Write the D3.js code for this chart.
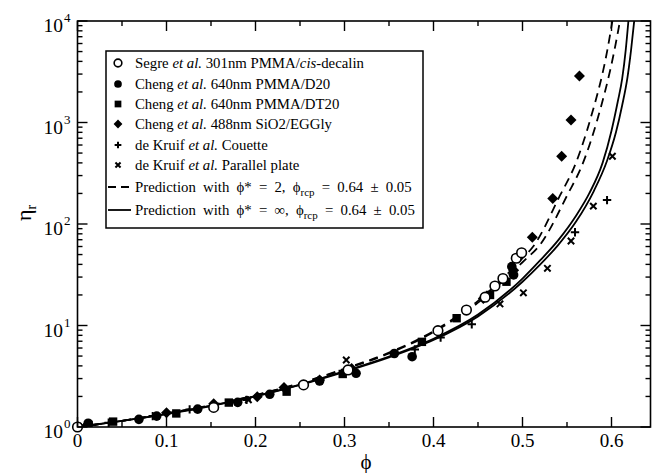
<!DOCTYPE html>
<html>
<head>
<meta charset="utf-8">
<script src="https://cdn.jsdelivr.net/npm/d3@7"></script>
<style>
  body { margin: 0; background: #fff; }
  svg text { font-family: "Liberation Serif", "Times New Roman", serif; fill: #000; }
</style>
</head>
<body>
<script>
// measured series: [phi, eta_r]
const segre = [[0,1],[0.153,1.56],[0.254,2.6],[0.304,3.65],[0.405,8.9],[0.437,14.2],[0.458,19],[0.469,24.5],[0.478,29],[0.493,46],[0.499,52]];
const chengD20 = [[0.012,1.09],[0.069,1.19],[0.089,1.28],[0.135,1.5],[0.18,1.75],[0.216,2.1],[0.272,2.84],[0.313,3.38],[0.356,5.3],[0.376,4.93],[0.488,38],[0.49,31.5]];
const chengDT20 = [[0.04,1.13],[0.111,1.36],[0.17,1.74],[0.235,2.23],[0.298,3.33],[0.387,6.9],[0.426,11.8],[0.4635,20],[0.482,27]];
const chengSiO2 = [[0.1,1.38],[0.153,1.69],[0.202,1.99],[0.232,2.45],[0.272,2.9],[0.308,3.78],[0.456,18.5],[0.49,35],[0.511,74],[0.534,178],[0.544,465],[0.5545,1060],[0.564,2870]];
const kruifCouette = [[0.016,1.05],[0.035,1.1],[0.0845,1.28],[0.126,1.49],[0.19,1.85],[0.379,5.8],[0.408,7.6],[0.443,10.3],[0.559,83],[0.595,172]];
const kruifPlate = [[0.005,1.02],[0.192,1.85],[0.302,4.57],[0.4747,16.3],[0.501,21],[0.528,36.6],[0.5545,68],[0.5796,150],[0.601,465]];

// prediction curves
const solidA = [[0,1],[0.05,1.15],[0.1,1.35],[0.15,1.62],[0.2,2.02],[0.25,2.62],[0.3,3.55],[0.35,4.95],[0.4,7.4],[0.45,12.8],[0.5,29],[0.52,44],[0.54,69],[0.56,120],[0.575,200],[0.59,400],[0.6,830],[0.607,1600],[0.612,2700],[0.616,5200],[0.619,10000]];
const solidB = [[0,1],[0.05,1.15],[0.1,1.34],[0.15,1.61],[0.2,2.0],[0.25,2.6],[0.3,3.5],[0.35,4.85],[0.4,7.2],[0.45,12.3],[0.5,27],[0.52,40],[0.54,62],[0.56,105],[0.58,210],[0.595,420],[0.605,800],[0.612,1480],[0.618,2800],[0.622,5200],[0.6255,10000]];
const dashA = [[0,1],[0.05,1.15],[0.1,1.36],[0.15,1.64],[0.2,2.06],[0.25,2.7],[0.3,3.75],[0.35,5.4],[0.4,8.8],[0.45,17.5],[0.5,46],[0.512,60],[0.542,190],[0.56,400],[0.576,1060],[0.595,5000],[0.601,10000]];
const dashB = [[0,1],[0.05,1.15],[0.1,1.36],[0.15,1.63],[0.2,2.05],[0.25,2.68],[0.3,3.7],[0.35,5.3],[0.4,8.6],[0.45,16.8],[0.5,42],[0.52,63],[0.55,190],[0.568,400],[0.584,1060],[0.603,5000],[0.6095,10000]];

const xTicks = [0, 0.1, 0.2, 0.3, 0.4, 0.5, 0.6];
const yTicks = [1, 10, 100, 1000, 10000];
const yExp = ["0", "1", "2", "3", "4"];

const legendItems = [
  { sym: "ocircle", parts: [["Segre "], ["et al.", 1], [" 301nm PMMA/"], ["cis", 1], ["-decalin"]] },
  { sym: "circle", parts: [["Cheng "], ["et al.", 1], [" 640nm PMMA/D20"]] },
  { sym: "square", parts: [["Cheng "], ["et al.", 1], [" 640nm PMMA/DT20"]] },
  { sym: "diamond", parts: [["Cheng "], ["et al.", 1], [" 488nm SiO2/EGGly"]] },
  { sym: "plus", parts: [["de Kruif "], ["et al.", 1], [" Couette"]] },
  { sym: "cross", parts: [["de Kruif "], ["et al.", 1], [" Parallel plate"]] },
  { sym: "dash", parts: [["Prediction with \u03D5* = 2, \u03D5"], ["rcp", 2], [" = 0.64 \u00B1 0.05"]] },
  { sym: "line", parts: [["Prediction with \u03D5* = \u221E, \u03D5"], ["rcp", 2], [" = 0.64 \u00B1 0.05"]] }
];

const width = 652, height = 473;
const pLeft = 77.5, pRight = 650.5, pTop = 21, pBottom = 427;

const svg = d3.select("body").append("svg")
  .attr("width", width)
  .attr("height", height)
  .attr("font-family", "Liberation Serif, serif");

const x = d3.scaleLinear().domain([0, (pRight - pLeft) / 890]).range([pLeft, pRight]);
const y = d3.scaleLog().domain([1, 10000]).range([pBottom, pTop]);

svg.append("defs").append("clipPath").attr("id", "clip")
  .append("rect").attr("x", pLeft).attr("y", pTop)
  .attr("width", pRight - pLeft).attr("height", pBottom - pTop);

// symbols
function symbol(g, type, s) {
  if (type === "ocircle") {
    g.append("circle").attr("r", 4.8 * s).attr("fill", "#fff").attr("stroke", "#000").attr("stroke-width", 1.6);
  } else if (type === "circle") {
    g.append("circle").attr("r", 4.8 * s).attr("fill", "#000");
  } else if (type === "square") {
    g.append("rect").attr("x", -4.2 * s).attr("y", -4.2 * s).attr("width", 8.4 * s).attr("height", 8.4 * s).attr("fill", "#000");
  } else if (type === "diamond") {
    const r = 5.5 * s;
    g.append("path").attr("d", `M0,${-r}L${r},0L0,${r}L${-r},0Z`).attr("fill", "#000");
  } else if (type === "plus") {
    const r = 4.2 * s;
    g.append("path").attr("d", `M${-r},0H${r}M0,${-r}V${r}`).attr("stroke", "#000").attr("stroke-width", 2);
  } else if (type === "cross") {
    const r = 3.2 * s;
    g.append("path").attr("d", `M${-r},${-r}L${r},${r}M${-r},${r}L${r},${-r}`).attr("stroke", "#000").attr("stroke-width", 2);
  }
}

// curves
const line = d3.line().x(d => x(d[0])).y(d => y(d[1])).curve(d3.curveMonotoneX);
const curves = svg.append("g").attr("clip-path", "url(#clip)");
[[solidA, null], [solidB, null], [dashA, "9,6"], [dashB, "9,6"]].forEach(([data, dash]) => {
  curves.append("path")
    .attr("d", line(data))
    .attr("fill", "none")
    .attr("stroke", "#000")
    .attr("stroke-width", 1.8)
    .attr("stroke-dasharray", dash);
});

// data points
const series = [
  [chengD20, "circle"], [chengDT20, "square"], [chengSiO2, "diamond"],
  [kruifCouette, "plus"], [kruifPlate, "cross"], [segre, "ocircle"]
];
const pts = svg.append("g").attr("clip-path", "url(#clip)");
series.forEach(([data, type]) => {
  data.forEach(d => {
    const g = pts.append("g").attr("transform", `translate(${x(d[0])},${y(d[1])})`);
    symbol(g, type, 1);
  });
});
// origin circle sits on the axes corner
symbol(svg.append("g").attr("transform", `translate(${x(0)},${y(1)})`), "ocircle", 1);

// frame
svg.append("rect").attr("x", pLeft).attr("y", pTop)
  .attr("width", pRight - pLeft).attr("height", pBottom - pTop)
  .attr("fill", "none").attr("stroke", "#000").attr("stroke-width", 1.6);

// ticks (all pointing inward)
const tg = svg.append("g").attr("stroke", "#000").attr("stroke-width", 1.4);
const xMinor = d3.range(0, 0.65, 0.05).map(v => +v.toFixed(2)).filter(v => x(v) < pRight - 1);
xMinor.forEach(v => {
  const major = Math.abs(v * 10 - Math.round(v * 10)) < 1e-6;
  const len = major ? 10 : 5;
  tg.append("line").attr("x1", x(v)).attr("x2", x(v)).attr("y1", pBottom).attr("y2", pBottom - len);
  tg.append("line").attr("x1", x(v)).attr("x2", x(v)).attr("y1", pTop).attr("y2", pTop + len);
});
yTicks.forEach((v, i) => {
  tg.append("line").attr("x1", pLeft).attr("x2", pLeft + 10).attr("y1", y(v)).attr("y2", y(v));
  tg.append("line").attr("x1", pRight).attr("x2", pRight - 10).attr("y1", y(v)).attr("y2", y(v));
  if (i < yTicks.length - 1) {
    for (let k = 2; k <= 9; k++) {
      const yy = y(v * k);
      tg.append("line").attr("x1", pLeft).attr("x2", pLeft + 5).attr("y1", yy).attr("y2", yy);
      tg.append("line").attr("x1", pRight).attr("x2", pRight - 5).attr("y1", yy).attr("y2", yy);
    }
  }
});

// tick labels
xTicks.forEach(v => {
  svg.append("text").attr("x", x(v)).attr("y", 447)
    .attr("text-anchor", "middle").attr("font-size", 19)
    .text(v === 0 ? "0" : v.toFixed(1));
});
yTicks.forEach((v, i) => {
  svg.append("text").attr("x", 63).attr("y", y(v) + 11)
    .attr("text-anchor", "end").attr("font-size", 19.5).text("10");
  svg.append("text").attr("x", 64).attr("y", y(v) + 1)
    .attr("font-size", 13).text(yExp[i]);
});

// axis titles
svg.append("text").attr("x", 366).attr("y", 469)
  .attr("text-anchor", "middle").attr("font-size", 21).text("\u03D5");
const yl = svg.append("text").attr("transform", "translate(31,213) rotate(-90)")
  .attr("text-anchor", "middle").attr("font-size", 22);
yl.append("tspan").text("\u03B7");
yl.append("tspan").attr("font-size", 14).attr("dy", 5).text("r");

// legend
const lg = svg.append("g");
lg.append("rect").attr("x", 106).attr("y", 51).attr("width", 317).attr("height", 177)
  .attr("fill", "#fff").attr("stroke", "#000").attr("stroke-width", 1.5);
const rowY = [63, 84, 104, 124, 145, 165, 187, 210];
legendItems.forEach((item, i) => {
  const cy = rowY[i];
  if (item.sym === "dash") {
    lg.append("line").attr("x1", 108).attr("x2", 131).attr("y1", cy).attr("y2", cy)
      .attr("stroke", "#000").attr("stroke-width", 1.8).attr("stroke-dasharray", "8,5");
  } else if (item.sym === "line") {
    lg.append("line").attr("x1", 108).attr("x2", 131).attr("y1", cy).attr("y2", cy)
      .attr("stroke", "#000").attr("stroke-width", 1.8);
  } else {
    symbol(lg.append("g").attr("transform", `translate(118,${cy})`), item.sym, 0.8);
  }
  const t = lg.append("text").attr("x", 135).attr("y", cy + 5).attr("font-size", 14.8);
  if (i >= 6) t.attr("word-spacing", 3.5);
  let sub = false;
  item.parts.forEach(([s, style]) => {
    const sp = t.append("tspan").text(s);
    if (style === 1) sp.attr("font-style", "italic");
    if (style === 2) { sp.attr("font-size", 11).attr("dy", 4); sub = true; }
    else if (sub) { sp.attr("dy", -4); sub = false; }
  });
});
</script>
</body>
</html>
